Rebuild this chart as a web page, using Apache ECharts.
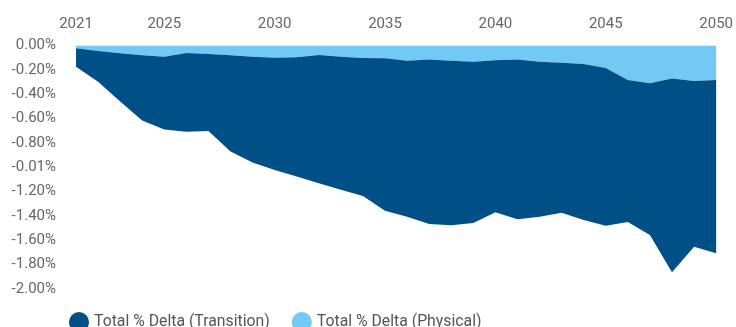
<!DOCTYPE html>
<html>
<head>
<meta charset="utf-8">
<script src="https://cdn.jsdelivr.net/npm/echarts@6/dist/echarts.min.js"></script>
<style>
html,body{margin:0;padding:0;background:#fff;}
#c{width:736px;height:327px;}
</style>
</head>
<body>
<div id="c"></div>
<script>
const years = ['2021','2022','2023','2024','2025','2026','2027','2028','2029','2030','2031','2032','2033','2034','2035','2036','2037','2038','2039','2040','2041','2042','2043','2044','2045','2046','2047','2048','2049','2050'];
const xLabelYears = ['2021','2025','2030','2035','2040','2045','2050'];
const physical = [-0.023,-0.045,-0.064,-0.081,-0.092,-0.062,-0.070,-0.080,-0.092,-0.100,-0.097,-0.078,-0.092,-0.103,-0.105,-0.125,-0.114,-0.125,-0.133,-0.122,-0.114,-0.133,-0.141,-0.152,-0.185,-0.283,-0.311,-0.272,-0.292,-0.283];
const transition = [-0.151,-0.252,-0.396,-0.536,-0.597,-0.646,-0.632,-0.790,-0.870,-0.922,-0.980,-1.053,-1.093,-1.133,-1.252,-1.281,-1.352,-1.352,-1.325,-1.248,-1.314,-1.273,-1.232,-1.281,-1.295,-1.167,-1.245,-1.591,-1.360,-1.424];
const yTickLabels = ['0.00%','-0.20%','-0.40%','-0.60%','-0.80%','-0.01%','-1.20%','-1.40%','-1.60%','-1.80%','-2.00%'];
const seriesNames = ['Total % Delta (Transition)','Total % Delta (Physical)'];

const chart = echarts.init(document.getElementById('c'));
chart.setOption({
  animation:false,
  textStyle:{fontFamily:'Roboto'},
  grid:{left:76,right:16,top:45.5,bottom:38},
  legend:{
    data:seriesNames,
    left:64, top:307,
    icon:'circle', itemWidth:20, itemHeight:20, itemGap:22,
    textStyle:{fontSize:15.8,color:'#555',fontFamily:'Roboto'}
  },
  xAxis:{
    type:'category', data:years, position:'top', boundaryGap:false,
    axisLine:{show:false}, axisTick:{show:false}, splitLine:{show:false},
    axisLabel:{
      interval:function(i,v){return xLabelYears.indexOf(v)>=0;},
      color:'#666', fontSize:15, margin:14
    }
  },
  yAxis:{
    type:'value', min:-2, max:0, interval:0.2,
    axisLine:{show:false}, axisTick:{show:false}, splitLine:{show:false},
    axisLabel:{
      color:'#666', fontSize:15, margin:20,
      formatter:function(v){return yTickLabels[Math.round(-v/0.2)];}
    }
  },
  series:[
    {name:seriesNames[1], type:'line', stack:'t', data:physical, symbol:'none',
     lineStyle:{width:0}, areaStyle:{color:'#72caf4',opacity:1}, itemStyle:{color:'#72caf4'}},
    {name:seriesNames[0], type:'line', stack:'t', data:transition, symbol:'none',
     lineStyle:{width:0}, areaStyle:{color:'#004f87',opacity:1}, itemStyle:{color:'#004f87'}}
  ]
});
</script>
</body>
</html>
